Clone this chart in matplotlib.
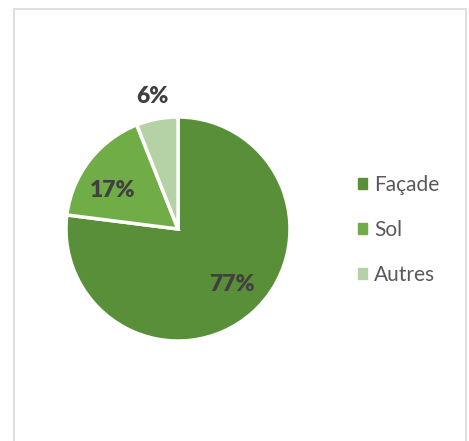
import matplotlib.pyplot as plt
import matplotlib.patches as mpatches
import numpy as np

plt.rcParams['font.family'] = ['Lato', 'DejaVu Sans']

labels = ['Façade', 'Sol', 'Autres']
values = [77, 17, 6]
colors = ['#5A8F3A', '#70AD47', '#B4D2A6']

W, H = 469, 441
fig = plt.figure(figsize=(W / 100, H / 100), dpi=100)

# outer frame (bottom edge runs off the image)
fig.patches.append(mpatches.Rectangle((14 / W, -10 / H), 452 / W, 442 / H,
                                      transform=fig.transFigure, fill=False,
                                      edgecolor='#D9D9D9', linewidth=1.2))

cx, cy, r = 178, 229, 112
ax = fig.add_axes([(cx - r) / W, (H - cy - r) / H, 2 * r / W, 2 * r / H])
wedges, _ = ax.pie(values, colors=colors, startangle=90, counterclock=False,
                   wedgeprops=dict(edgecolor='white', linewidth=2.5))
ax.set_xlim(-1, 1)
ax.set_ylim(-1, 1)

# label placement: distance from centre and small angle nudge
dist = [0.69, 0.68, 1.2]
nudge = [3, 7, 0]
for w, v, d, n in zip(wedges, values, dist, nudge):
    ang = np.deg2rad((w.theta1 + w.theta2) / 2 + n)
    ax.text(d * np.cos(ang), d * np.sin(ang), f'{v}%', ha='center', va='center',
            fontsize=16.5, fontweight='heavy', color='#404040')

handles = [mpatches.Patch(color=c, label=l) for c, l in zip(colors, labels)]
fig.legend(handles=handles, loc='center left', bbox_to_anchor=(339 / W, (H - 230) / H),
           frameon=False, fontsize=15, handlelength=0.45, handleheight=0.45,
           handletextpad=0.35, labelspacing=1.2, labelcolor='#595959')

fig.savefig('out.png', dpi=100)
